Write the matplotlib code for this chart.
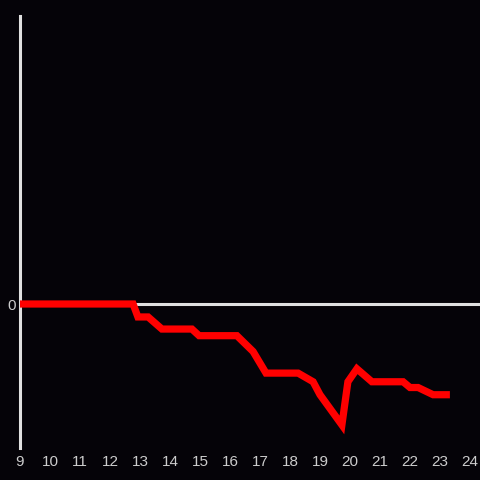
import matplotlib
matplotlib.use("Agg")
import matplotlib.pyplot as plt

# hour of day vs value
hours = [9, 12.77, 12.93, 13.27, 13.73, 14.73, 14.97, 16.23, 16.77, 17.2, 18.27,
         18.77, 19.0, 19.73, 19.93, 20.23, 20.73, 21.77, 22.0, 22.27, 22.77, 23.33]
values = [0, 0, -9, -9, -17.4, -17.4, -22, -22, -33, -48, -48,
          -54, -63, -84, -54, -45, -54, -54, -58, -58, -63, -63]
xticks = list(range(9, 25))

bg = '#050308'
axis_col = '#e0e0e0'

fig = plt.figure(figsize=(4.8, 4.8), dpi=100, facecolor=bg)
ax = fig.add_axes([20 / 480, 32 / 480, 460 / 480, 432 / 480])
ax.set_facecolor(bg)

ax.axhline(0, color=axis_col, lw=2.2, zorder=1)
ax.plot(hours, values, color='#ff0000', lw=5.2, solid_joinstyle='miter',
        solid_capstyle='butt', zorder=3, clip_on=False)

ax.set_xlim(9, 9 + 460 / 30)
ax.set_ylim(-100, 200)

for s in ['top', 'right', 'bottom']:
    ax.spines[s].set_visible(False)
ax.spines['left'].set_color(axis_col)
ax.spines['left'].set_linewidth(2.2)

ax.set_xticks(xticks)
ax.set_xticklabels([str(t) for t in xticks])
ax.set_yticks([0])
ax.set_yticklabels(['0'])
ax.tick_params(axis='both', length=0, colors='#cccccc', labelsize=11)
ax.tick_params(axis='x', pad=5)
ax.tick_params(axis='y', pad=3)
for lab in ax.get_xticklabels() + ax.get_yticklabels():
    lab.set_family('Liberation Sans')

fig.savefig('out.png', dpi=100, facecolor=bg)
